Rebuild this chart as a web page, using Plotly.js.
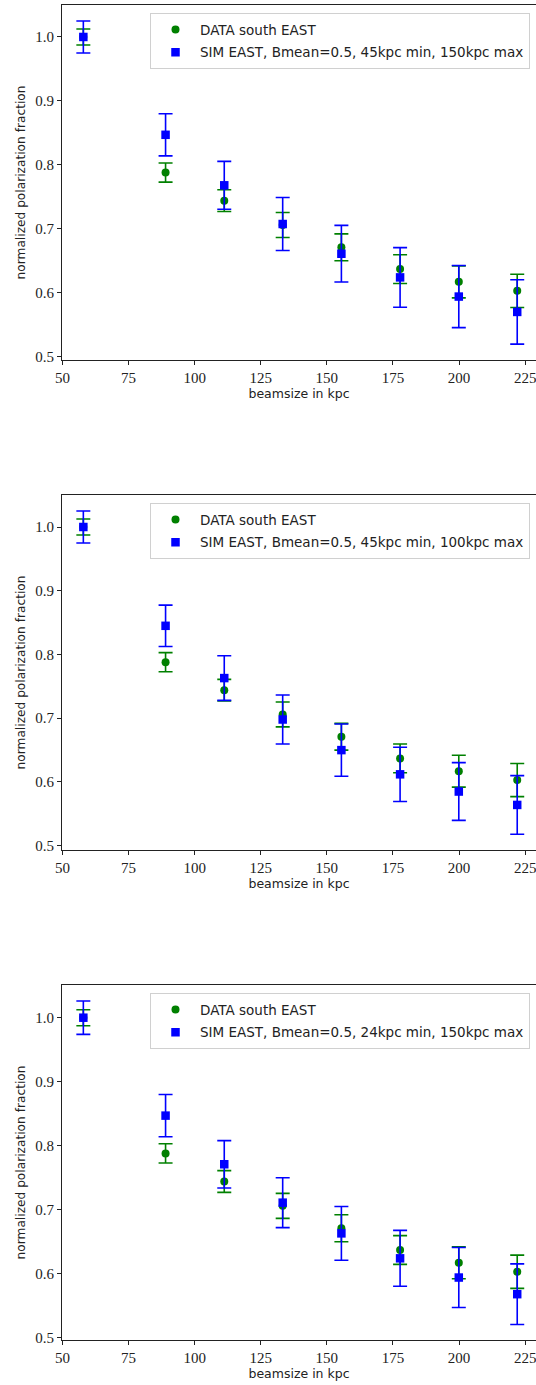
<!DOCTYPE html>
<html>
<head>
<meta charset="utf-8">
<script src="https://cdn.plot.ly/plotly-3.0.1.min.js"></script>
<style>
html,body{margin:0;padding:0;background:#fff;overflow:hidden;}
#chart{width:536px;height:1385px;}
</style>
</head>
<body>
<div id="chart"></div>
<script>
// beamsizes (kpc)
const beamsize = [57.9, 89.0, 111.2, 133.3, 155.5, 177.7, 199.9, 222.0];
// DATA south EAST
const dataY   = [1.0, 0.788, 0.744, 0.706, 0.671, 0.637, 0.617, 0.603];
const dataErr = [0.0125, 0.015, 0.017, 0.0195, 0.021, 0.0225, 0.025, 0.026];
// SIM panels
const sim1Y   = [1.0, 0.847, 0.768, 0.7075, 0.661, 0.624, 0.594, 0.570];
const sim1Err = [0.025, 0.033, 0.0375, 0.0415, 0.0443, 0.0466, 0.0485, 0.0503];
const sim2Y   = [1.0, 0.845, 0.763, 0.698, 0.650, 0.612, 0.585, 0.564];
const sim2Err = [0.025, 0.0325, 0.035, 0.0385, 0.041, 0.0426, 0.0453, 0.046];
const sim3Y   = [1.0, 0.847, 0.771, 0.711, 0.663, 0.624, 0.594, 0.568];
const sim3Err = [0.026, 0.033, 0.037, 0.039, 0.042, 0.0437, 0.0469, 0.0474];

const dataName = "DATA south EAST";
const simNames = [
  "SIM EAST, Bmean=0.5, 45kpc min, 150kpc max",
  "SIM EAST, Bmean=0.5, 45kpc min, 100kpc max",
  "SIM EAST, Bmean=0.5, 24kpc min, 150kpc max"
];
const simYs = [sim1Y, sim2Y, sim3Y];
const simErrs = [sim1Err, sim2Err, sim3Err];
const xTicks = [50, 75, 100, 125, 150, 175, 200, 225];
const yTicks = [0.5, 0.6, 0.7, 0.8, 0.9, 1.0];

const H = 1385;
const L = 62;
const panelTop = [5, 495, 985];     // px
const panelBottom = [360, 850, 1340];
const yRanges = [[0.4948, 1.0500], [0.4933, 1.0502], [0.4964, 1.0511]];
const legendTop = [13.3, 503.3, 993.3];

const traces = [];
const layout = {
  width: 536, height: H,
  margin: {l: L, r: 0, t: 0, b: 0},
  paper_bgcolor: "#fff", plot_bgcolor: "#fff",
  showlegend: true,
  font: {family: "DejaVu Sans", color: "#000"}
};

for (let i = 0; i < 3; i++) {
  const n = i === 0 ? "" : String(i + 1);
  const xa = "x" + n, ya = "y" + n;
  const leg = "legend" + n;
  traces.push({
    x: beamsize, y: dataY, type: "scatter", mode: "markers",
    name: dataName, xaxis: xa, yaxis: ya, legend: leg, legendgroup: "d" + i,
    marker: {color: "green", symbol: "circle", size: 8},
    error_y: {type: "data", array: dataErr, visible: true, color: "green", thickness: 1.6, width: 7}
  });
  traces.push({
    x: beamsize, y: simYs[i], type: "scatter", mode: "markers",
    name: simNames[i], xaxis: xa, yaxis: ya, legend: leg, legendgroup: "s" + i,
    marker: {color: "blue", symbol: "square", size: 8.5},
    error_y: {type: "data", array: simErrs[i], visible: true, color: "blue", thickness: 1.6, width: 7}
  });
  layout["xaxis" + n] = {
    anchor: ya, domain: [0, 1], range: [49.83, 49.83 + (536 - L) / 2.644],
    tickvals: xTicks, ticktext: xTicks.map(String),
    ticks: "outside", ticklen: 4, tickwidth: 1, tickcolor: "#222",
    ticklabeloverflow: "allow",
    showline: true, linecolor: "#222", linewidth: 1, mirror: true,
    showgrid: false, zeroline: false,
    tickfont: {family: "Liberation Serif", size: 15, color: "#222"},
    title: {text: "beamsize in kpc", font: {family: "DejaVu Sans", size: 12.5, color: "#222"}, standoff: 3}
  };
  layout["yaxis" + n] = {
    anchor: xa,
    domain: [1 - panelBottom[i] / H, 1 - panelTop[i] / H],
    range: yRanges[i],
    tickvals: yTicks, ticktext: yTicks.map(v => v.toFixed(1)),
    ticks: "outside", ticklen: 4, tickwidth: 1, tickcolor: "#222",
    ticklabeloverflow: "allow",
    showline: true, linecolor: "#222", linewidth: 1, mirror: false,
    showgrid: false, zeroline: false,
    tickfont: {family: "Liberation Serif", size: 15, color: "#222"},
    title: {text: "normalized polarization fraction", font: {family: "DejaVu Sans", size: 12.2, color: "#222"}, standoff: 6}
  };
  layout[leg] = {
    x: (150 - L) / (536 - L), xanchor: "left",
    y: 1 - legendTop[i] / H, yanchor: "top",
    bgcolor: "rgba(255,255,255,0.8)", bordercolor: "#d0d0d0", borderwidth: 1,
    font: {family: "DejaVu Sans", size: 13.5, color: "#222"},
    tracegroupgap: 2, itemwidth: 39
  };
}

Plotly.newPlot("chart", traces, layout, {staticPlot: true, displayModeBar: false});
</script>
</body>
</html>
